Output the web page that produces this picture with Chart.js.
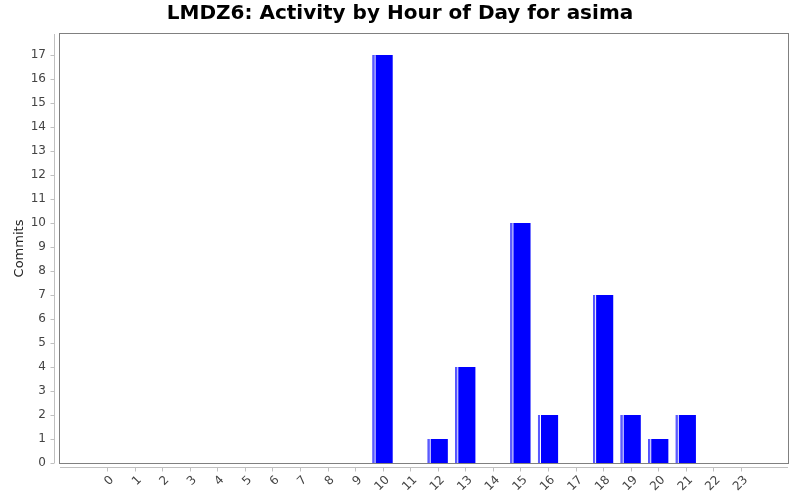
<!DOCTYPE html>
<html>
<head>
<meta charset="utf-8">
<script src="https://cdn.jsdelivr.net/npm/chart.js@4/dist/chart.umd.min.js"></script>
<style>
  html, body { margin: 0; padding: 0; background: #fff; }
  #wrap { width: 800px; height: 500px; }
</style>
</head>
<body>
<div id="wrap"><canvas id="c" width="800" height="500"></canvas></div>
<script>
const hours = ["0", "1", "2", "3", "4", "5", "6", "7", "8", "9", "10", "11",
  "12", "13", "14", "15", "16", "17", "18", "19", "20", "21", "22", "23"];
const commits = [0, 0, 0, 0, 0, 0, 0, 0, 0, 0, 17, 0, 1, 4, 0, 10, 2, 0, 7, 2, 1, 2, 0, 0];
const yTicks = [0, 1, 2, 3, 4, 5, 6, 7, 8, 9, 10, 11, 12, 13, 14, 15, 16, 17];

const edge = 1.705; // category margin, in category units

// plot frame, offset axis lines, tick marks, bar highlight
const decor = {
  id: "decor",
  afterDatasetsDraw(chart) {
    const ctx = chart.ctx;
    const a = chart.chartArea;
    const xs = chart.scales.x, ys = chart.scales.y;
    ctx.save();

    // bar highlight stripe
    const meta = chart.getDatasetMeta(0);
    meta.data.forEach((bar, i) => {
      if (!commits[i]) return;
      const left = bar.x - bar.width / 2;
      const top = Math.min(bar.y, bar.base);
      const h = Math.abs(bar.base - bar.y);
      ctx.fillStyle = "#5a5aff";
      ctx.fillRect(left, top, 2, h);
      ctx.fillStyle = "#ffffff";
      ctx.fillRect(left + 2, top, 1, h);
    });

    ctx.lineWidth = 1;
    // frame
    ctx.strokeStyle = "#808080";
    ctx.strokeRect(Math.round(a.left) - 0.5, Math.round(a.top) - 0.5,
      Math.round(a.right - a.left) + 1, Math.round(a.bottom - a.top) + 1);

    // y axis line + ticks
    ctx.strokeStyle = "#c0c0c0";
    const yx = Math.round(a.left) - 5.5;
    ctx.beginPath();
    ctx.moveTo(yx, a.top);
    ctx.lineTo(yx, a.bottom);
    yTicks.forEach(v => {
      const py = Math.round(ys.getPixelForValue(v)) + 0.5;
      ctx.moveTo(yx, py);
      ctx.lineTo(yx - 4, py);
    });
    // x axis line + ticks
    const xy = Math.round(a.bottom) + 4.5;
    ctx.moveTo(a.left, xy);
    ctx.lineTo(a.right, xy);
    hours.forEach((h, i) => {
      const px = Math.round(xs.getPixelForValue(i)) + 0.5;
      ctx.moveTo(px, xy);
      ctx.lineTo(px, xy + 4);
    });
    ctx.stroke();
    ctx.restore();
  }
};

new Chart(document.getElementById("c"), {
  type: "bar",
  data: {
    datasets: [{
      label: "Commits",
      data: hours.map((h, i) => ({ x: i, y: commits[i] })),
      backgroundColor: "#0000ff",
      borderWidth: 0,
      barPercentage: 0.73,
      categoryPercentage: 1.0
    }]
  },
  options: {
    responsive: false,
    animation: false,
    layout: { padding: 0 },
    plugins: {
      legend: { display: false },
      tooltip: { enabled: false },
      title: {
        display: true,
        text: "LMDZ6: Activity by Hour of Day for asima",
        color: "#000000",
        font: { family: "DejaVu Sans", size: 20, weight: "bold" },
        padding: { top: 2, bottom: 8 }
      }
    },
    scales: {
      x: {
        type: "linear",
        min: -edge,
        max: hours.length - 1 + edge,
        offset: false,
        grid: { display: false },
        border: { display: false },
        afterBuildTicks: s => { s.ticks = hours.map((h, i) => ({ value: i })); },
        afterFit: s => { s.height = 37; },
        ticks: {
          autoSkip: false,
          minRotation: 45,
          maxRotation: 45,
          padding: 2,
          labelOffset: 5,
          color: "#444444",
          font: { family: "DejaVu Sans", size: 12 },
          callback: v => hours[v]
        }
      },
      y: {
        min: 0,
        max: 17.88,
        grid: { display: false, drawTicks: false },
        border: { display: false },
        afterBuildTicks: s => { s.ticks = yTicks.map(v => ({ value: v })); },
        afterFit: s => { s.width = 60; },
        title: {
          display: true,
          text: "Commits",
          color: "#222222",
          font: { family: "DejaVu Sans", size: 13 },
          padding: { top: 12, bottom: 0 }
        },
        ticks: {
          padding: 14,
          color: "#444444",
          font: { family: "DejaVu Sans", size: 12 }
        }
      },
      // empty right-hand gutter so the plot ends 12px from the edge
      gutter: {
        axis: "y",
        position: "right",
        display: true,
        grid: { display: false, drawTicks: false },
        border: { display: false },
        ticks: { display: false },
        afterFit: s => { s.width = 12; }
      }
    }
  },
  plugins: [decor]
});
</script>
</body>
</html>
